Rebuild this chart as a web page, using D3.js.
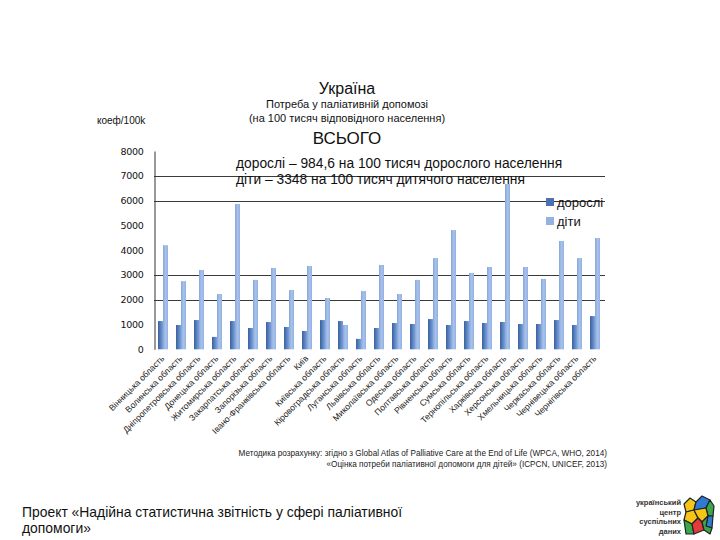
<!DOCTYPE html>
<html><head><meta charset="utf-8">
<script src="https://cdn.jsdelivr.net/npm/d3@7"></script>
<style>
body{margin:0;background:#fff;}
svg{display:block;font-family:"Liberation Sans",Arial,sans-serif;}
</style></head>
<body><svg id="c" width="720" height="540"></svg>
<script>
const regions = ["Вінницька область","Волинська область","Дніпропетровська область","Донецька область","Житомирська область","Закарпатська область","Запорізька область","Івано-Франківська область","Київ","Київська область","Кіровоградська область","Луганська область","Львівська область","Миколаївська область","Одеська область","Полтавська область","Рівненська область","Сумська область","Тернопільська область","Харківська область","Херсонська область","Хмельницька область","Черкаська область","Чернівецька область","Чернігівська область"];
const adults = [1140,980,1180,500,1140,860,1100,900,740,1180,1140,420,860,1060,1020,1220,980,1140,1060,1100,1020,1020,1180,980,1340];
const children = [4200,2750,3200,2230,5860,2800,3280,2390,3360,2070,980,2350,3400,2230,2800,3680,4810,3080,3320,6670,3320,2840,4370,3680,4490];
const seriesNames = ["дорослі","діти"];
const yTicks = [0,1000,2000,3000,4000,5000,6000,7000,8000];
const gridValues = [2000,3000,6000,7000];

const svg = d3.select("#c");
const defs = svg.append("defs");
function grad(id, stops){
  const g = defs.append("linearGradient").attr("id",id).attr("x1","0").attr("x2","1").attr("y1","0").attr("y2","0");
  stops.forEach(s=>g.append("stop").attr("offset",s[0]).attr("stop-color",s[1]));
}
grad("gA",[[0,"#3a619d"],[0.55,"#5b83c2"],[1,"#7ca2dc"]]);
grad("gC",[[0,"#86a6d9"],[0.5,"#a7c1ea"],[1,"#93b2e2"]]);

const x0 = d3.scaleBand().domain(regions).range([154,604]).paddingInner(0).paddingOuter(0);
const x1 = d3.scaleBand().domain(seriesNames).range([4,14]);
const y = d3.scaleLinear().domain([0,8000]).range([349.3,151]);

// gridlines
svg.append("g").selectAll("line").data(gridValues).join("line")
  .attr("x1",154).attr("x2",605).attr("y1",d=>Math.round(y(d))+0.5).attr("y2",d=>Math.round(y(d))+0.5)
  .attr("stroke","#3a3a3a").attr("stroke-width",1);

// y axis
const ya = svg.append("g").attr("transform","translate(154.5,0)")
  .call(d3.axisLeft(y).tickValues(yTicks).tickSize(0).tickPadding(11).tickFormat(d3.format("d")));
ya.select(".domain").attr("stroke","#333");
ya.selectAll("text").attr("font-size",9.5).attr("fill","#111").attr("font-family","'DejaVu Sans',sans-serif").attr("letter-spacing","-0.3");

// bars
const groups = svg.append("g").selectAll("g").data(regions).join("g")
  .attr("transform",d=>`translate(${x0(d)},0)`);
groups.append("rect").attr("x",x1("дорослі")).attr("width",x1.bandwidth())
  .attr("y",(d,i)=>y(adults[i])).attr("height",(d,i)=>y(0)-y(adults[i])).attr("fill","url(#gA)");
groups.append("rect").attr("x",x1("діти")).attr("width",x1.bandwidth())
  .attr("y",(d,i)=>y(children[i])).attr("height",(d,i)=>y(0)-y(children[i])).attr("fill","url(#gC)");

// x labels
svg.append("g").selectAll("text").data(regions).join("text")
  .attr("transform",d=>`translate(${x0(d)+x0.bandwidth()/2+2},${359}) rotate(-45)`)
  .attr("text-anchor","end").attr("font-size",8.6).attr("fill","#222").text(d=>d);

// titles
const cx = 347;
svg.append("text").attr("x",cx).attr("y",94).attr("text-anchor","middle").attr("font-size",16).attr("fill","#111").text("Україна");
svg.append("text").attr("x",cx).attr("y",108).attr("text-anchor","middle").attr("font-size",11).attr("fill","#111").text("Потреба у паліативній допомозі");
svg.append("text").attr("x",cx).attr("y",122).attr("text-anchor","middle").attr("font-size",11).attr("fill","#111").text("(на 100 тисяч відповідного населення)");
svg.append("text").attr("x",cx).attr("y",144).attr("text-anchor","middle").attr("font-size",17).attr("fill","#111").text("ВСЬОГО");
svg.append("text").attr("x",97).attr("y",124).attr("font-size",10).attr("fill","#111").text("коеф/100k");

// annotations
svg.append("text").attr("x",236).attr("y",168).attr("font-size",13.8).attr("fill","#111").text("дорослі – 984,6 на 100 тисяч дорослого населення");
svg.append("text").attr("x",236).attr("y",184).attr("font-size",13.8).attr("fill","#111").text("діти – 3348 на 100 тисяч дитячого населення");

// legend
const leg = svg.append("g").selectAll("g").data(seriesNames).join("g")
  .attr("transform",(d,i)=>`translate(546,${198+i*19})`);
leg.append("rect").attr("width",8).attr("height",8).attr("fill",(d,i)=>i===0?"#4a72b0":"#93b2e2");
leg.append("text").attr("x",11).attr("y",9).attr("font-size",13).attr("fill","#111").text(d=>d);

// footnote
svg.append("text").attr("x",607).attr("y",456).attr("text-anchor","end").attr("font-size",8.2).attr("fill","#222")
  .text("Методика розрахунку: згідно з  Global Atlas of Palliative Care at the End of Life (WPCA, WHO, 2014)");
svg.append("text").attr("x",607).attr("y",467).attr("text-anchor","end").attr("font-size",8.2).attr("fill","#222")
  .text("«Оцінка потреби паліативної допомоги для дітей» (ICPCN, UNICEF, 2013)");

// bottom text
svg.append("text").attr("x",22).attr("y",517).attr("font-size",13.9).attr("fill","#111").text("Проект «Надійна статистична звітність у сфері паліативної");
svg.append("text").attr("x",22).attr("y",533).attr("font-size",13.9).attr("fill","#111").text("допомоги»");

// logo
const logoLines = ["український","центр","суспільних","даних"];
svg.append("g").selectAll("text").data(logoLines).join("text")
  .attr("x",681).attr("y",(d,i)=>505+i*9.5).attr("text-anchor","end").attr("font-size",7.5).attr("font-weight","bold").attr("fill","#333").text(d=>d);
const lg = svg.append("g").attr("transform","translate(684,496)").attr("stroke","#222").attr("stroke-width",1.2).attr("stroke-linejoin","round");
const tiles = [
  ["M0,8 L6,2 L12,6 L10,14 L2,16 Z","#f5c518"],
  ["M12,6 L18,0 L26,4 L22,12 L10,14 Z","#2e7bd6"],
  ["M22,12 L26,4 L30,10 L29,20 L24,20 Z","#3aa84a"],
  ["M2,16 L10,14 L14,22 L8,28 L0,24 Z","#f5c518"],
  ["M10,14 L22,12 L24,20 L18,26 L14,22 Z","#f5c518"],
  ["M24,20 L29,20 L28,32 L22,30 Z","#2e7bd6"],
  ["M0,24 L8,28 L10,38 L2,38 Z","#3aa84a"],
  ["M8,28 L14,22 L18,26 L20,34 L10,38 Z","#e23b3b"],
  ["M18,26 L24,20 L22,30 L28,32 L26,38 L20,34 Z","#3aa84a"]
];
lg.selectAll("path").data(tiles).join("path").attr("d",d=>d[0]).attr("fill",d=>d[1]);
</script></body></html>
